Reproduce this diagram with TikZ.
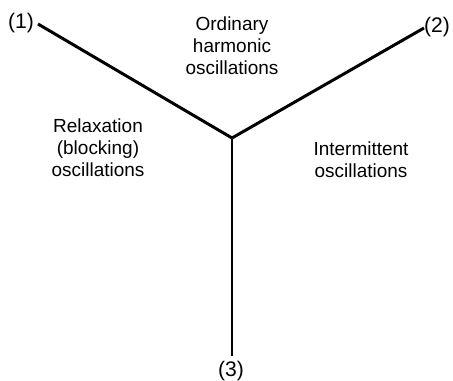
\documentclass[tikz,border=0pt]{standalone}
\usepackage{fontspec}
\setmainfont{Liberation Sans}
\usetikzlibrary{positioning}
\tikzset{
  branch/.style={line width=1.7pt},
  region/.style={align=center, inner sep=0pt, anchor=north, font=\fontsize{10.8}{12.6}\selectfont},
  endlabel/.style={inner sep=0pt, font=\fontsize{12}{13}\selectfont}
}
\begin{document}
\begin{tikzpicture}[x=0.02cm, y=-0.02cm]
\useasboundingbox (0,0) rectangle (453,381);
% centre and the three branch ends
\coordinate (c) at (232,138);
\coordinate (e1) at (38,24);
\coordinate (e2) at (424,28);
\coordinate (e3) at (232,356);
\draw[branch] (c) -- (e1);
\draw[branch] (c) -- (e2);
\draw[branch] (c) -- (e3);
% end labels
\node[endlabel] (one) at (21,23) {(1)};
\node[endlabel] (two) at (437,27) {(2)};
\node[endlabel] (three) at (231,371) {(3)};
% regions
\node[region] (ordinary) at (232,16) {Ordinary\\harmonic\\oscillations};
\node[region] (relax) at (98,118) {Relaxation\\(blocking)\\oscillations};
\node[region] (inter) at (361,141) {Intermittent\\oscillations};
\end{tikzpicture}
\end{document}
